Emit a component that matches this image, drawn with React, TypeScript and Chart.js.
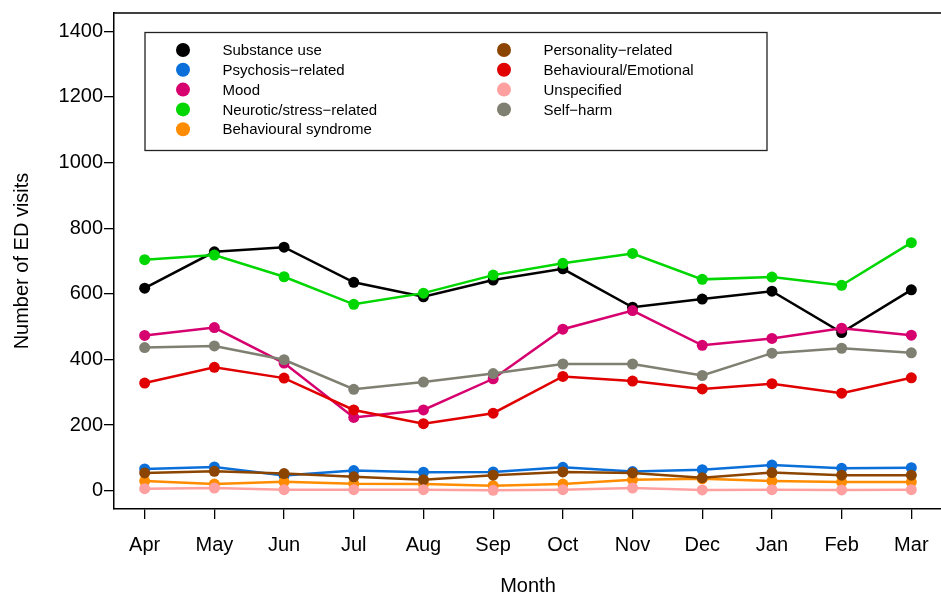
import React, { useEffect, useRef } from "react";
import { Chart, registerables } from "chart.js";
Chart.register(...registerables);

const months = ["Apr", "May", "Jun", "Jul", "Aug", "Sep", "Oct", "Nov", "Dec", "Jan", "Feb", "Mar"];
const yTicks = [0, 200, 400, 600, 800, 1000, 1200, 1400];

const substanceUse = [617, 728, 742, 635, 591, 642, 676, 559, 584, 608, 482, 612];
const psychosisRelated = [66, 72, 46, 61, 56, 57, 71, 58, 64, 78, 68, 70];
const mood = [473, 497, 389, 223, 246, 341, 492, 549, 443, 464, 495, 474];
const neuroticStress = [704, 718, 652, 568, 602, 657, 693, 723, 644, 651, 626, 756];
const behaviouralSyndrome = [29, 20, 27, 21, 20, 15, 20, 33, 36, 29, 26, 26];
const personalityRelated = [54, 59, 52, 42, 33, 47, 57, 54, 39, 55, 47, 47];
const behaviouralEmotional = [328, 376, 343, 246, 204, 236, 348, 334, 310, 326, 297, 344];
const unspecified = [6, 8, 3, 3, 3, 1, 3, 8, 2, 3, 2, 3];
const selfHarm = [436, 441, 399, 309, 331, 357, 386, 386, 351, 419, 434, 420];

const seriesNames = [
  "Substance use",
  "Psychosis\u2212related",
  "Mood",
  "Neurotic/stress\u2212related",
  "Behavioural syndrome",
  "Personality\u2212related",
  "Behavioural/Emotional",
  "Unspecified",
  "Self\u2212harm",
];
const seriesValues = [
  substanceUse,
  psychosisRelated,
  mood,
  neuroticStress,
  behaviouralSyndrome,
  personalityRelated,
  behaviouralEmotional,
  unspecified,
  selfHarm,
];
const seriesColors = [
  "#000000",
  "#0B6FDA",
  "#D6006F",
  "#00D600",
  "#FF8C00",
  "#8B4500",
  "#E00000",
  "#FFA0A0",
  "#7F7F72",
];

const FONT = "'Liberation Sans', Arial, Helvetica, sans-serif";
const W = 960;
const H = 598;

const framePlugin = {
  id: "frameAndLegend",
  afterDraw(chart: any) {
    const ctx = chart.ctx;
    const ca = chart.chartArea;
    ctx.save();
    ctx.strokeStyle = "#000";
    ctx.lineWidth = 1.5;
    ctx.beginPath();
    ctx.moveTo(ca.left, ca.top);
    ctx.lineTo(ca.right + 5, ca.top);
    ctx.stroke();

    const bx = 145, by = 32.5, bw = 622, bh = 118;
    ctx.fillStyle = "#fff";
    ctx.fillRect(bx, by, bw, bh);
    ctx.strokeStyle = "#222";
    ctx.lineWidth = 1.3;
    ctx.strokeRect(bx, by, bw, bh);
    const rowY = [50, 69.8, 89.6, 109.4, 129.2];
    const colMarkerX = [183, 504];
    const colTextX = [222.5, 543.5];
    ctx.font = `15px ${FONT}`;
    ctx.textBaseline = "middle";
    ctx.textAlign = "left";
    chart.data.datasets.forEach((ds: any, i: number) => {
      const col = i < 5 ? 0 : 1;
      const row = i < 5 ? i : i - 5;
      const y = rowY[row];
      ctx.fillStyle = ds.borderColor;
      ctx.beginPath();
      ctx.arc(colMarkerX[col], y, 7, 0, Math.PI * 2);
      ctx.fill();
      ctx.fillStyle = "#000";
      ctx.fillText(ds.label, colTextX[col], y + 1);
    });
    ctx.restore();
  },
};

export default function App() {
  const ref = useRef<HTMLCanvasElement | null>(null);
  useEffect(() => {
    if (!ref.current) return;
    const datasets = seriesValues.map((vals, i) => ({
      label: seriesNames[i],
      data: vals.map((v, j) => ({ x: j, y: v })),
      borderColor: seriesColors[i],
      backgroundColor: seriesColors[i],
      pointBackgroundColor: seriesColors[i],
      pointBorderColor: seriesColors[i],
      pointBorderWidth: 0,
      pointRadius: 5.5,
      borderWidth: 2.5,
      tension: 0,
      order: 20 - i,
    }));
    const chart = new Chart(ref.current, {
      type: "line",
      data: { datasets },
      plugins: [framePlugin],
      options: {
        responsive: false,
        animation: false,
        layout: { padding: { left: 0, right: W - 942, top: 12, bottom: 0 } },
        plugins: { legend: { display: false }, tooltip: { enabled: false } },
        scales: {
          x: {
            type: "linear",
            min: -0.44,
            max: 11.44,
            afterBuildTicks: (s: any) => {
              s.ticks = months.map((_, i) => ({ value: i }));
            },
            afterFit: (s: any) => {
              s.height = 89;
            },
            ticks: {
              callback: (v: any) => months[Math.round(Number(v))],
              font: { family: FONT, size: 20 },
              color: "#000",
              padding: 14,
              autoSkip: false,
              maxRotation: 0,
            },
            grid: { drawOnChartArea: false, drawTicks: true, tickLength: 10, color: "#000", lineWidth: 1.3 },
            border: { display: true, color: "#000", width: 1.5 },
            title: {
              display: true,
              text: "Month",
              font: { family: FONT, size: 20 },
              color: "#000",
              padding: { top: 0, bottom: 0 },
            },
          },
          y: {
            type: "linear",
            min: -56,
            max: 1456,
            afterBuildTicks: (s: any) => {
              s.ticks = yTicks.map((v) => ({ value: v }));
            },
            afterFit: (s: any) => {
              s.width = 114;
            },
            ticks: {
              callback: (v: any) => String(v),
              font: { family: FONT, size: 20 },
              color: "#000",
              padding: 1,
            },
            grid: { drawOnChartArea: false, drawTicks: true, tickLength: 10, color: "#000", lineWidth: 1.3 },
            border: { display: true, color: "#000", width: 1.5 },
            title: {
              display: true,
              text: "Number of ED visits",
              font: { family: FONT, size: 20 },
              color: "#000",
              padding: { top: 10, bottom: 0 },
            },
          },
        },
      },
    } as any);
    return () => chart.destroy();
  }, []);
  return (
    <div
      style={{
        position: "absolute",
        left: 0,
        top: 0,
        width: 941,
        height: 596,
        overflow: "hidden",
        background: "#fff",
      }}
    >
      <canvas ref={ref} width={W} height={H} style={{ display: "block" }} />
    </div>
  );
}
